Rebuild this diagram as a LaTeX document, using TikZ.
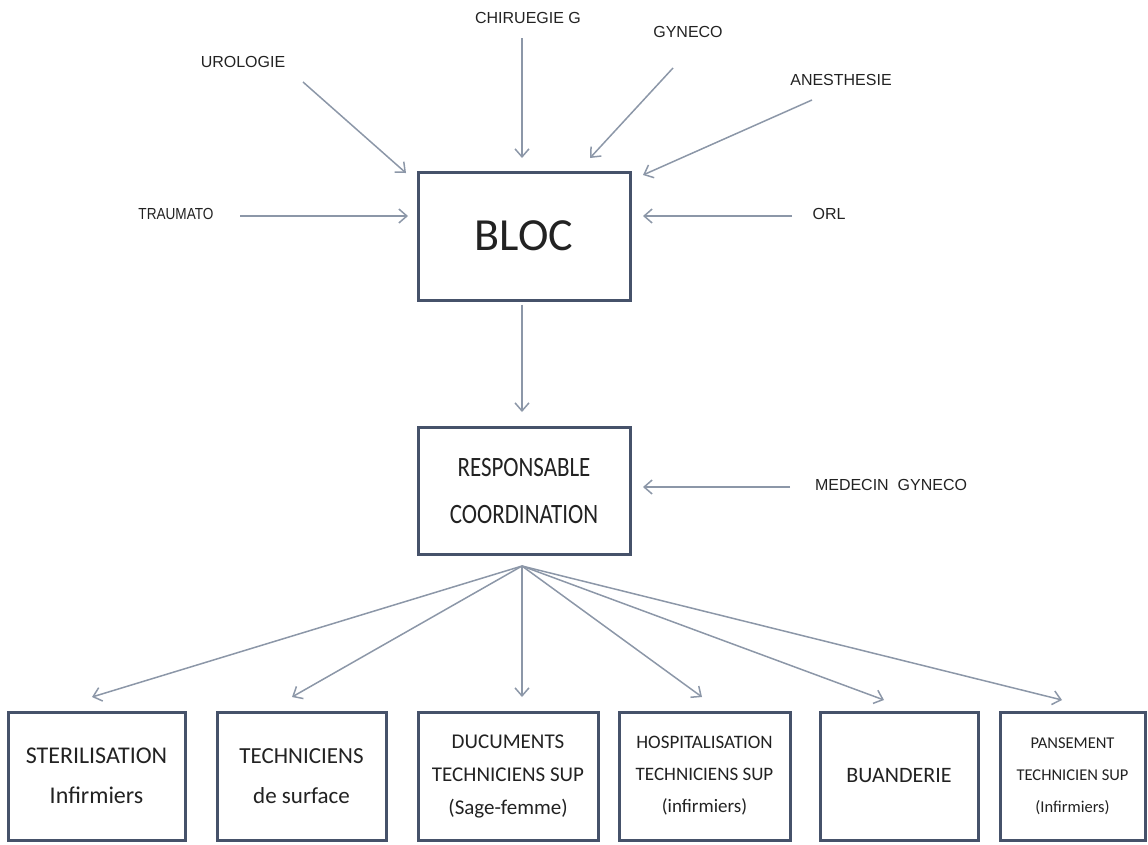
\documentclass[tikz,border=0pt]{standalone}
\usepackage{fontspec}
\usetikzlibrary{arrows.meta}
\newfontfamily\boxfont{Carlito}
\newfontfamily\narrowbox[FakeStretch=0.82]{Carlito}
\newfontfamily\lblfont{Liberation Sans}
\newfontfamily\lblnarrow[FakeStretch=0.85]{Liberation Sans}
\definecolor{boxline}{HTML}{46526A}
\definecolor{arrowc}{HTML}{8C97A8}
\definecolor{txt}{HTML}{222222}
\tikzset{
  x=1pt, y=-1pt,
  box/.style={draw=boxline, line width=3pt, fill=white, inner sep=0pt, align=center, text=txt, font=\boxfont},
  lbl/.style={inner sep=0pt, text=txt, font=\lblfont\fontsize{16}{18}\selectfont},
  arr/.style={draw=arrowc, line width=1.5pt, -{Straight Barb[length=8pt,width=14pt,line width=1.5pt]}}
}
\begin{document}
\begin{tikzpicture}
\useasboundingbox (0,0) rectangle (1148,844);
% main boxes
\node[box, minimum width=212, minimum height=128, font=\boxfont\fontsize{46}{50}\selectfont] (bloc) at (524,236) {BLOC};
\node[box, minimum width=212, minimum height=127, font=\narrowbox\fontsize{28}{47}\selectfont] (resp) at (524,491) {RESPONSABLE\\COORDINATION};
% bottom boxes
\node[box, minimum width=177, minimum height=128, font=\boxfont\fontsize{24}{40}\selectfont] (ster) at (96.5,776) {STERILISATION\\Infirmiers};
\node[box, minimum width=169, minimum height=128, font=\boxfont\fontsize{23}{40}\selectfont] (tech) at (301.5,776) {TECHNICIENS\\de surface};
\node[box, minimum width=180, minimum height=128, font=\boxfont\fontsize{21}{33}\selectfont] (docu) at (508,776) {DUCUMENTS\\TECHNICIENS SUP\\(Sage-femme)};
\node[box, minimum width=171, minimum height=128, font=\boxfont\fontsize{19}{32}\selectfont] (hosp) at (704.5,776) {HOSPITALISATION\\TECHNICIENS SUP\\(infirmiers)};
\node[box, minimum width=158, minimum height=128, font=\boxfont\fontsize{22}{28}\selectfont] (buan) at (899,776) {BUANDERIE};
\node[box, minimum width=145, minimum height=128, font=\boxfont\fontsize{16.5}{32}\selectfont] (pans) at (1072.5,776) {PANSEMENT\\TECHNICIEN SUP\\(Infirmiers)};
% labels
\node[lbl] (uro) at (243,62) {UROLOGIE};
\node[lbl] (chir) at (528,18) {CHIRUEGIE G};
\node[lbl] (gyn) at (688,32) {GYNECO};
\node[lbl] (anes) at (841,80) {ANESTHESIE};
\node[lbl, font=\lblnarrow\fontsize{16}{18}\selectfont] (trau) at (176,214) {TRAUMATO};
\node[lbl] (orl) at (829,214) {ORL};
\node[lbl] (med) at (891,485) {MEDECIN\ \ GYNECO};
% arrow end points
\coordinate (uroA) at (303,82);  \coordinate (uroB) at (406,173);
\coordinate (chirA) at (522,38); \coordinate (chirB) at (522,158);
\coordinate (gynA) at (673,68);  \coordinate (gynB) at (590,158);
\coordinate (anesA) at (812,100); \coordinate (anesB) at (643,175);
\coordinate (trauA) at (240,216); \coordinate (trauB) at (408,216);
\coordinate (orlA) at (792,216); \coordinate (orlB) at (643,216);
\coordinate (medA) at (790,487); \coordinate (medB) at (643,487);
\coordinate (blocB) at (522,412);
\coordinate (fan) at (522,566);
\coordinate (t1) at (92,697);
\coordinate (t2) at (292,697);
\coordinate (t3) at (522,697);
\coordinate (t4) at (702,697);
\coordinate (t5) at (884,700);
\coordinate (t6) at (1062,700);
% arrows
\draw[arr] (uroA) -- (uroB);
\draw[arr] (chirA) -- (chirB);
\draw[arr] (gynA) -- (gynB);
\draw[arr] (anesA) -- (anesB);
\draw[arr] (trauA) -- (trauB);
\draw[arr] (orlA) -- (orlB);
\draw[arr] (bloc.south -| blocB) ++(0,3) -- (blocB);
\draw[arr] (medA) -- (medB);
\draw[arr] (fan) -- (t1);
\draw[arr] (fan) -- (t2);
\draw[arr] (fan) -- (t3);
\draw[arr] (fan) -- (t4);
\draw[arr] (fan) -- (t5);
\draw[arr] (fan) -- (t6);
\end{tikzpicture}
\end{document}
